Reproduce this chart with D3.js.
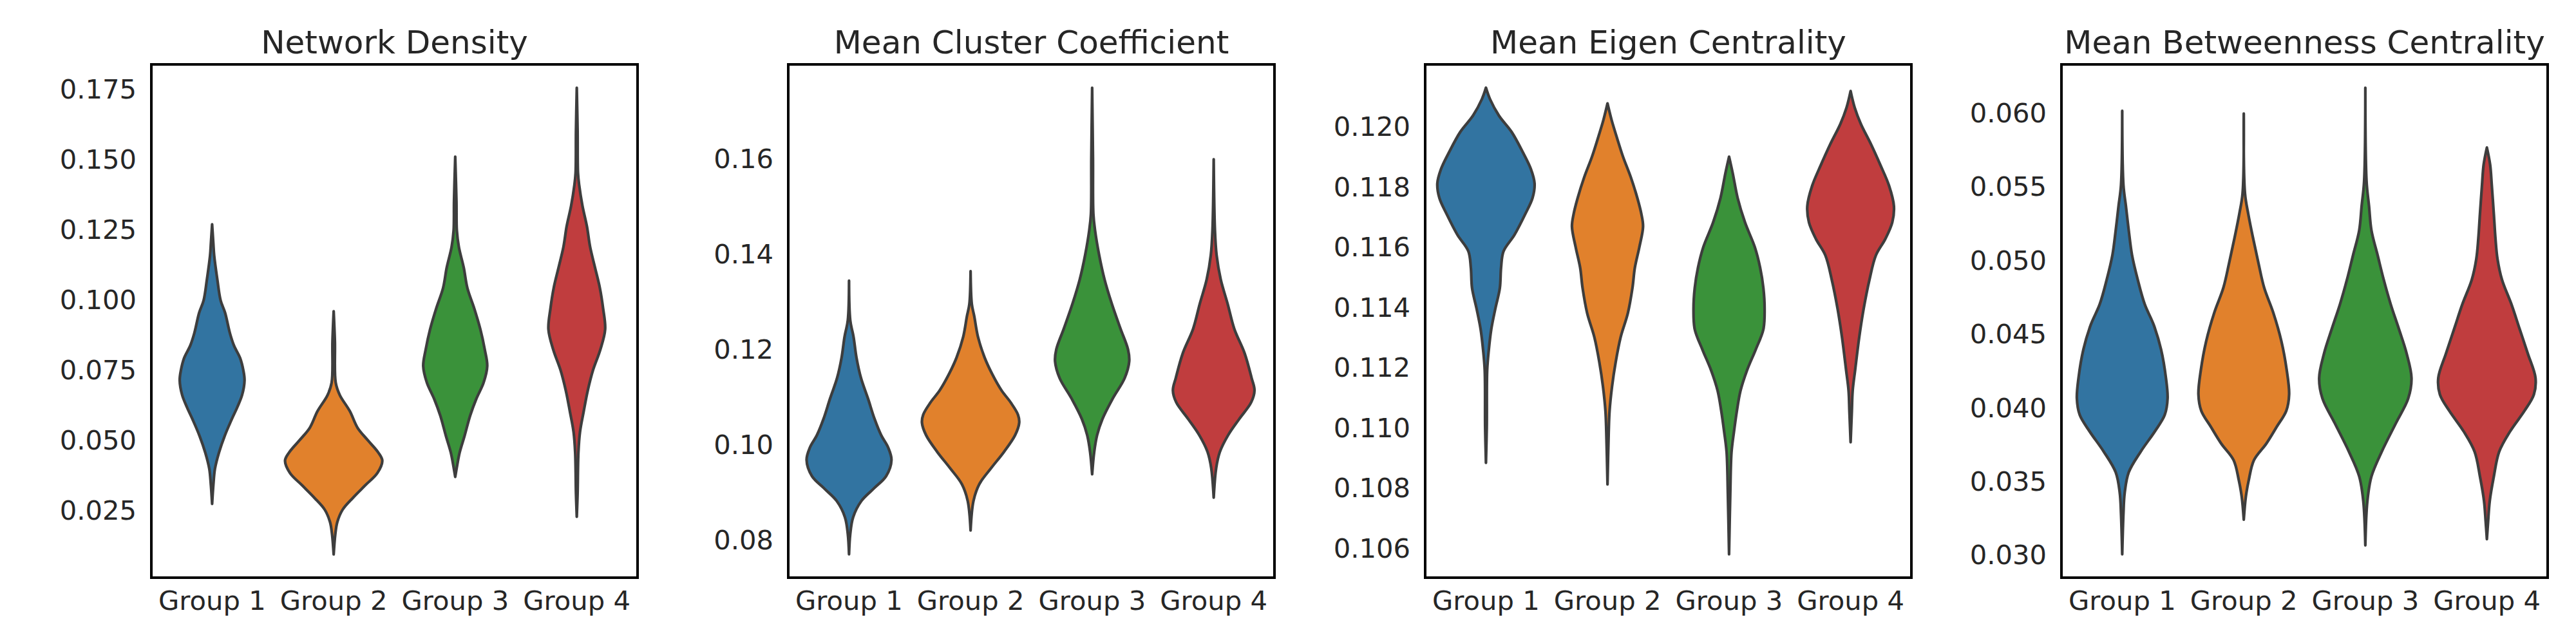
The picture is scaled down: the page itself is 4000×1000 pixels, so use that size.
<!DOCTYPE html>
<html><head><meta charset="utf-8">
<script src="https://cdn.jsdelivr.net/npm/d3@7"></script>
<style>
body{margin:0;background:#fff}
svg text{font-family:'DejaVu Sans',sans-serif;fill:#262626}
</style>
</head><body>
<svg id="chart" width="4000" height="1000"></svg>
<script>
// ---------- data ----------
const groups = ["Group 1", "Group 2", "Group 3", "Group 4"];
const groupColors = ["#3274a1", "#e1812c", "#3a923a", "#c03d3e"];
const panelTitles = ["Network Density", "Mean Cluster Coefficient", "Mean Eigen Centrality", "Mean Betweenness Centrality"];

// density profiles: [value, relative density]
const networkDensity = [
  [[0.1267,0],[0.1200,3],[0.1157,5],[0.1069,13],[0.0996,21],[0.0952,32],[0.0879,44],[0.0835,54],[0.0791,69],[0.0747,77],[0.0711,80],[0.0659,74],[0.0615,62],[0.0571,48],[0.0513,31],[0.0454,17],[0.0396,7],[0.0337,3],[0.0271,0]],
  [[0.0957,0],[0.0850,3],[0.0703,5],[0.0659,15],[0.0601,40],[0.0542,59],[0.0498,84],[0.0454,110],[0.0425,120],[0.0381,108],[0.0337,78],[0.0293,48],[0.0250,22],[0.0206,9],[0.0162,4],[0.0091,0]],
  [[0.1508,0],[0.1350,3],[0.1245,4],[0.1186,9],[0.1113,21],[0.1040,30],[0.0967,47],[0.0893,62],[0.0820,73],[0.0762,79],[0.0703,70],[0.0645,52],[0.0586,37],[0.0513,23],[0.0454,11],[0.0410,5],[0.0367,0]],
  [[0.1754,0],[0.1600,2],[0.1450,3],[0.1406,6],[0.1333,14],[0.1260,25],[0.1186,33],[0.1113,45],[0.1040,57],[0.0967,65],[0.0893,70],[0.0820,58],[0.0747,40],[0.0674,27],[0.0600,17],[0.0528,8],[0.0454,4],[0.0308,2],[0.0225,0]]
];
const meanCluster = [
  [[0.1342,0],[0.1259,3],[0.1224,11],[0.1181,18],[0.1138,29],[0.1095,46],[0.1052,62],[0.1018,78],[0.0992,95],[0.0966,103],[0.0932,90],[0.0906,60],[0.0880,30],[0.0846,10],[0.0811,3],[0.0768,0]],
  [[0.1362,0],[0.1293,3],[0.1267,9],[0.1224,18],[0.1181,34],[0.1147,52],[0.1112,75],[0.1087,97],[0.1061,115],[0.1044,118],[0.1018,108],[0.0983,81],[0.0949,50],[0.0915,21],[0.0880,7],[0.0818,0]],
  [[0.1747,0],[0.1600,2],[0.1482,3],[0.1448,7],[0.1396,17],[0.1345,30],[0.1293,48],[0.1241,69],[0.1198,87],[0.1173,90],[0.1138,79],[0.1095,50],[0.1052,25],[0.1018,12],[0.0983,5],[0.0936,0]],
  [[0.1597,0],[0.1448,3],[0.1396,7],[0.1345,17],[0.1293,34],[0.1241,50],[0.1190,75],[0.1138,92],[0.1112,99],[0.1087,91],[0.1052,62],[0.1018,35],[0.0983,15],[0.0949,6],[0.0887,0]]
];
const meanEigen = [
  [[0.12127,0],[0.12089,10],[0.12034,32],[0.11980,63],[0.11911,91],[0.11857,110],[0.11809,119],[0.11761,114],[0.11707,96],[0.11639,70],[0.11584,43],[0.11530,37],[0.11462,34],[0.11394,23],[0.11325,13],[0.11257,7],[0.11189,3],[0.11000,2],[0.10882,0]],
  [[0.12075,0],[0.12020,10],[0.11966,22],[0.11898,38],[0.11830,57],[0.11761,73],[0.11707,83],[0.11666,87],[0.11598,78],[0.11530,67],[0.11462,61],[0.11380,50],[0.11298,32],[0.11216,20],[0.11134,11],[0.11053,5],[0.10985,3],[0.10810,0]],
  [[0.11898,0],[0.11843,9],[0.11761,21],[0.11680,39],[0.11598,63],[0.11530,76],[0.11462,84],[0.11394,87],[0.11325,84],[0.11257,65],[0.11189,44],[0.11121,28],[0.11053,19],[0.10985,12],[0.10917,6],[0.10780,3],[0.10578,0]],
  [[0.12116,0],[0.12061,10],[0.12007,25],[0.11939,50],[0.11870,73],[0.11802,94],[0.11734,106],[0.11680,102],[0.11625,85],[0.11571,62],[0.11489,46],[0.11394,32],[0.11298,21],[0.11189,11],[0.11121,5],[0.11053,3],[0.10950,0]]
];
const meanBetweenness = [
  [[0.0601,0],[0.05505,3],[0.05365,9],[0.05198,16],[0.05031,24],[0.04864,38],[0.04698,55],[0.04558,77],[0.04391,95],[0.04197,107],[0.04058,111],[0.03946,104],[0.03835,80],[0.03696,45],[0.03557,16],[0.03417,6],[0.03278,3],[0.0300,0]],
  [[0.05992,0],[0.05449,3],[0.05310,11],[0.05143,23],[0.04976,36],[0.04809,50],[0.04642,72],[0.04447,92],[0.04252,105],[0.04085,111],[0.03974,104],[0.03863,80],[0.03751,55],[0.03640,25],[0.03501,12],[0.03390,5],[0.03236,0]],
  [[0.06167,0],[0.05532,3],[0.05365,9],[0.05198,15],[0.05031,30],[0.04864,45],[0.04698,62],[0.04531,82],[0.04364,101],[0.04197,113],[0.04058,105],[0.03891,75],[0.03696,40],[0.03529,15],[0.03362,5],[0.03061,0]],
  [[0.05761,0],[0.05644,8],[0.05505,12],[0.05310,17],[0.05143,21],[0.05004,26],[0.04864,37],[0.04698,60],[0.04531,80],[0.04364,100],[0.04197,119],[0.04085,115],[0.03974,92],[0.03835,57],[0.03696,30],[0.03529,17],[0.03362,7],[0.03223,3],[0.03103,0]]
];

const ticksDensity = [0.025,0.050,0.075,0.100,0.125,0.150,0.175];
const ticksCluster = [0.08,0.10,0.12,0.14,0.16];
const ticksEigen = [0.106,0.108,0.110,0.112,0.114,0.116,0.118,0.120];
const ticksBetween = [0.030,0.035,0.040,0.045,0.050,0.055,0.060];
const tickFormats = [".3f", ".2f", ".3f", ".3f"];

// ---------- layout ----------
const panels = [networkDensity, meanCluster, meanEigen, meanBetweenness];
const panelTicks = [ticksDensity, ticksCluster, ticksEigen, ticksBetween];
const panelLeft = [235, 1224, 2213, 3201];
const panelW = 755, plotTop = 100, plotBottom = 897;

const svg = d3.select("#chart");

panels.forEach((profiles, p) => {
  const left = panelLeft[p];
  const g = svg.append("g");
  const all = profiles.flat().map(d => d[0]);
  const [lo, hi] = d3.extent(all);
  const pad = (hi - lo) * 0.05;
  const y = d3.scaleLinear().domain([lo - pad, hi + pad]).range([plotBottom, plotTop]);
  const x = d3.scaleBand().domain(groups).range([left, left + panelW]);
  const bw = x.bandwidth();
  const maxD = d3.max(profiles.flat(), d => d[1]);
  const w = d3.scaleLinear().domain([0, maxD]).range([0, bw * 0.4]);

  profiles.forEach((prof, i) => {
    const cx = x(groups[i]) + bw / 2;
    const area = d3.area()
      .y(d => y(d[0]))
      .x0(d => cx - w(d[1]))
      .x1(d => cx + w(d[1]))
      .curve(d3.curveCatmullRom.alpha(0.5));
    g.append("path")
      .attr("d", area(prof))
      .attr("fill", groupColors[i])
      .attr("stroke", "#3d3d3d")
      .attr("stroke-width", 4.2)
      .attr("stroke-linejoin", "round")
      .attr("stroke-linecap", "round");
  });

  const ya = g.append("g").attr("transform", `translate(${left},0)`)
    .call(d3.axisLeft(y).tickValues(panelTicks[p]).tickFormat(d3.format(tickFormats[p])).tickSize(0).tickPadding(23));
  ya.select(".domain").remove();
  ya.selectAll("text").attr("font-size", 41.7).attr("dy", "0.36em").attr("fill", "#262626").style("font-family", "'DejaVu Sans'");

  const xa = g.append("g").attr("transform", `translate(0,${plotBottom})`)
    .call(d3.axisBottom(x).tickSize(0).tickPadding(20));
  xa.select(".domain").remove();
  xa.selectAll("text").attr("font-size", 41.7).attr("fill", "#262626").style("font-family", "'DejaVu Sans'");

  g.append("rect").attr("x", left).attr("y", plotTop).attr("width", panelW).attr("height", plotBottom - plotTop)
    .attr("fill", "none").attr("stroke", "#000").attr("stroke-width", 4);

  g.append("text").attr("x", left + panelW / 2).attr("y", 83).attr("text-anchor", "middle")
    .attr("font-size", 50).text(panelTitles[p]);
});
</script>
</body></html>
